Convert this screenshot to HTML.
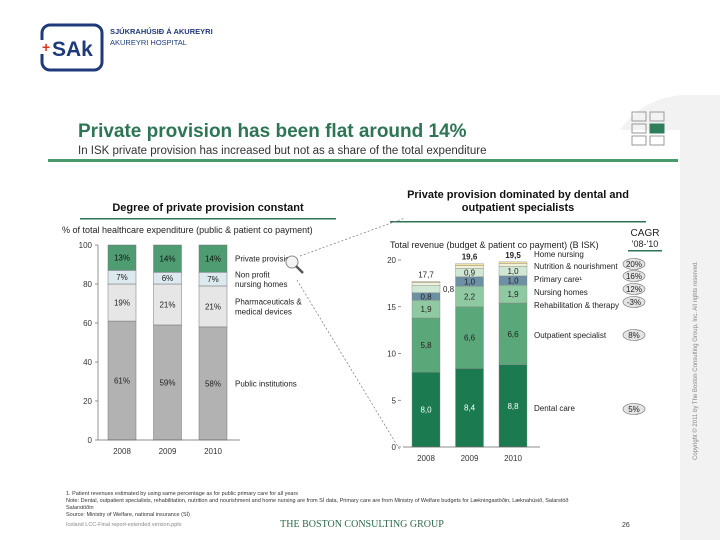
<!DOCTYPE html>
<html><head><meta charset="utf-8"><style>
body{margin:0;width:720px;height:540px;overflow:hidden;background:#fff;font-family:"Liberation Sans",sans-serif}
svg{display:block}
</style></head><body>
<svg width="720" height="540" viewBox="0 0 720 540" font-family="Liberation Sans, sans-serif">
<path d="M620 130 Q640 100 680 95 L720 95 L720 540 L680 540 L680 130 Z" fill="#f2f2f2"/>
<g>
<rect x="42" y="25" width="60" height="45" rx="8" fill="none" stroke="#1f3a7a" stroke-width="3"/>
<rect x="36" y="40" width="14" height="14" fill="#fff"/>
<text x="42" y="52" font-size="14" font-weight="bold" fill="#d32">+</text>
<text x="52" y="56" font-size="21" font-weight="bold" fill="#1f3a7a">SAk</text>
<text x="110" y="34" font-size="7.5" font-weight="bold" fill="#1f3a7a">SJÚKRAHÚSIÐ Á AKUREYRI</text>
<text x="110" y="45" font-size="7.5" fill="#1f3a7a">AKUREYRI HOSPITAL</text>
</g>
<g fill="none" stroke="#999" stroke-width="1">
<rect x="632" y="112" width="14" height="9"/><rect x="650" y="112" width="14" height="9"/>
<rect x="632" y="124" width="14" height="9"/><rect x="650" y="124" width="14" height="9" fill="#2e7d5b" stroke="#2e7d5b"/>
<rect x="632" y="136" width="14" height="9"/><rect x="650" y="136" width="14" height="9"/>
</g>
<text x="78" y="137" font-size="19" font-weight="bold" fill="#2e7555">Private provision has been flat around 14%</text>
<text x="78" y="154" font-size="11.5" fill="#333">In ISK private provision has increased but not as a share of the total expenditure</text>
<rect x="48" y="159" width="630" height="3" fill="#4a9a6e"/>

<text x="208" y="211" font-size="11" font-weight="bold" text-anchor="middle" fill="#111">Degree of private provision constant</text>
<rect x="80" y="218" width="256" height="1.5" fill="#2e7555"/>
<text x="62" y="233" font-size="9" fill="#222">% of total healthcare expenditure (public &amp; patient co payment)</text>
<g id="left"></g>

<text x="518" y="198" font-size="11" font-weight="bold" text-anchor="middle" fill="#111">Private provision dominated by dental and</text>
<text x="518" y="211" font-size="11" font-weight="bold" text-anchor="middle" fill="#111">outpatient specialists</text>
<rect x="390" y="221" width="256" height="1.5" fill="#2e7555"/>
<text x="390" y="248" font-size="9" fill="#222">Total revenue (budget &amp; patient co payment) (B ISK)</text>
<text x="645" y="236" font-size="10" fill="#222" text-anchor="middle">CAGR</text>
<text x="645" y="247" font-size="9" fill="#222" text-anchor="middle">'08-'10</text>
<rect x="628" y="250" width="34" height="1.5" fill="#2e7555"/>
<g id="right"></g>

<g>
<circle cx="292" cy="262" r="6" fill="#f4f4f4" stroke="#888"/>
<line x1="296" y1="266" x2="303" y2="273" stroke="#555" stroke-width="2.5"/>
</g>
<line x1="300" y1="256" x2="405" y2="218" stroke="#777" stroke-dasharray="2,2" stroke-width="0.7"/>
<line x1="297" y1="280" x2="400" y2="450" stroke="#777" stroke-dasharray="2,2" stroke-width="0.7"/>

<text transform="translate(697,460) rotate(-90)" font-size="6" fill="#888">Copyright © 2011 by The Boston Consulting Group, Inc. All rights reserved.</text>
<g font-size="5.5" fill="#333">
<text x="66" y="495">1. Patient revenues estimated by using same percentage as for public primary care for all years</text>
<text x="66" y="502">Note: Dental, outpatient specialists, rehabilitation, nutrition and nourishment and home nursing are from SÍ data, Primary care are from Ministry of Welfare budgets for Lækningastöðin, Læknahúsið, Salarstöð</text>
<text x="66" y="509">Salarstöðin</text>
<text x="66" y="516">Source: Ministry of Welfare, national insurance (SÍ)</text>
<text x="66" y="526" fill="#888">Iceland LCC-Final report-extended version.pptx</text>
</g>
<text x="362" y="527" font-size="10" fill="#2e6a4a" text-anchor="middle" font-family="Liberation Serif, serif">THE BOSTON CONSULTING GROUP</text>
<text x="622" y="527" font-size="7" fill="#333">26</text>
</svg>
<script>
const leftYears=['2008','2009','2010'];
const leftPublic=[61,59,58];
const leftPharma=[19,21,21];
const leftNonProfit=[7,6,7];
const leftPrivate=[13,14,14];
const leftTicks=[0,20,40,60,80,100];
const rightYears=['2008','2009','2010'];
const dental=[8.0,8.4,8.8];
const outpatient=[5.8,6.6,6.6];
const rehab=[1.9,2.2,1.9];
const nursingHomes=[0.8,1.0,1.0];
const primaryCare=[0.8,0.9,1.0];
const nutrition=[0.3,0.3,0.3];
const homeNursing=[0.1,0.2,0.2];
const totals=['17,7','19,6','19,5'];
const rightTicks=[0,5,10,15,20];
const cagr=['20%','16%','12%','-3%','8%','5%'];
const NS='http://www.w3.org/2000/svg';
function mk(p,t,a,txt){const e=document.createElementNS(NS,t);for(const k in a)e.setAttribute(k,a[k]);if(txt!==undefined)e.textContent=txt;p.appendChild(e);return e;}
// left chart
const L=document.getElementById('left');
const ly=v=>440-v*1.95;
const lx=i=>108+i*45.5;
mk(L,'line',{x1:98,y1:ly(0),x2:98,y2:ly(100),stroke:'#666','stroke-width':0.7});
leftTicks.forEach(t=>{const tx=mk(L,'text',{x:92,y:ly(t)+3,'font-size':8,'text-anchor':'end',fill:'#333'},t);


mk(L,'line',{x1:95,y1:ly(t),x2:98,y2:ly(t),stroke:'#666','stroke-width':0.7});});
const lseries=[[leftPublic,'#b2b2b2','#222'],[leftPharma,'#e6e6e6','#222'],[leftNonProfit,'#dce9ee','#222'],[leftPrivate,'#4f9c72','#111']];
leftYears.forEach((y,i)=>{let c=0;lseries.forEach(([arr,col,tc],s)=>{const v=arr[i];
const r=mk(L,'rect',{x:lx(i),y:ly(c+v),width:28,height:ly(c)-ly(c+v),fill:col,stroke:'#777','stroke-width':0.5});


const t=mk(L,'text',{x:lx(i)+14,y:(ly(c)+ly(c+v))/2+3,'font-size':8,'text-anchor':'middle',fill:tc},v+'%');


c+=v;});
const yl=mk(L,'text',{x:lx(i)+14,y:454,'font-size':8,'text-anchor':'middle',fill:'#333'},y);

});
mk(L,'line',{x1:98,y1:ly(0),x2:240,y2:ly(0),stroke:'#666','stroke-width':0.7});
[['Private provision',ly(93)],['Non profit',ly(85)],['nursing homes',ly(80)],['Pharmaceuticals &',ly(71)],['medical devices',ly(66)],['Public institutions',ly(29)]].forEach(([t,y])=>{const e=mk(L,'text',{x:235,y:y+3,'font-size':8,fill:'#222'},t);

});
// right chart
const R=document.getElementById('right');
const ry=v=>447-v*9.35;
const rx=i=>412+i*43.5;
mk(R,'line',{x1:403,y1:ry(0),x2:403,y2:ry(20),stroke:'#fff'});
rightTicks.forEach(t=>{const e=mk(R,'text',{x:396,y:ry(t)+3,'font-size':8,'text-anchor':'end',fill:'#333'},t);


mk(R,'line',{x1:398,y1:ry(t),x2:401,y2:ry(t),stroke:'#666','stroke-width':0.7});});
const rseries=[[dental,'#1b7a50','#fff',1],[outpatient,'#5aa77a','#222',1],[rehab,'#8fc9a1','#222',1],[nursingHomes,'#6d90a4','#222',1],[primaryCare,'#cfe7d3','#222',1],[nutrition,'#eef2d8','#222',0],[homeNursing,'#f3e3a0','#222',0]];
rightYears.forEach((y,i)=>{let c=0;rseries.forEach(([arr,col,tc,lab])=>{const v=arr[i];
const r=mk(R,'rect',{x:rx(i),y:ry(c+v),width:28,height:ry(c)-ry(c+v),fill:col,stroke:'#888','stroke-width':0.4});


if(lab&&!(i==0&&arr===primaryCare)){const t=mk(R,'text',{x:rx(i)+14,y:(ry(c)+ry(c+v))/2+3,'font-size':8,'text-anchor':'middle',fill:tc},v.toFixed(1).replace('.',','));

}
c+=v;});
const tt=mk(R,'text',{x:rx(i)+14,y:ry(c)-4,'font-size':8,'font-weight':i?'bold':'normal','text-anchor':'middle',fill:'#222'},totals[i]);


const yl=mk(R,'text',{x:rx(i)+14,y:461,'font-size':8,'text-anchor':'middle',fill:'#333'},y);

});
const pc0=mk(R,'text',{x:443,y:ry(dental[0]+outpatient[0]+rehab[0]+nursingHomes[0]+primaryCare[0]/2)+3,'font-size':8,fill:'#222'},'0,8');


mk(R,'line',{x1:403,y1:ry(0),x2:540,y2:ry(0),stroke:'#666','stroke-width':0.7});
const rl=[['Home nursing',254],['Nutrition & nourishment',266],['Primary care¹',279],['Nursing homes',292],['Rehabilitation & therapy',305],['Outpatient specialist',335],['Dental care',408]];
rl.forEach(([t,y])=>{const e=mk(R,'text',{x:534,y:y+3,'font-size':8,fill:'#222'},t);

});
const cy=[264,276,289,302,335,409];
cagr.forEach((c,k)=>{const g=mk(R,'g',{});


mk(g,'ellipse',{cx:634,cy:cy[k],rx:11,ry:5.5,fill:'#e4e4e4',stroke:'#666','stroke-width':0.6});
mk(g,'text',{x:634,y:cy[k]+3,'font-size':8,'text-anchor':'middle',fill:'#222'},c);});
</script>
</body></html>
